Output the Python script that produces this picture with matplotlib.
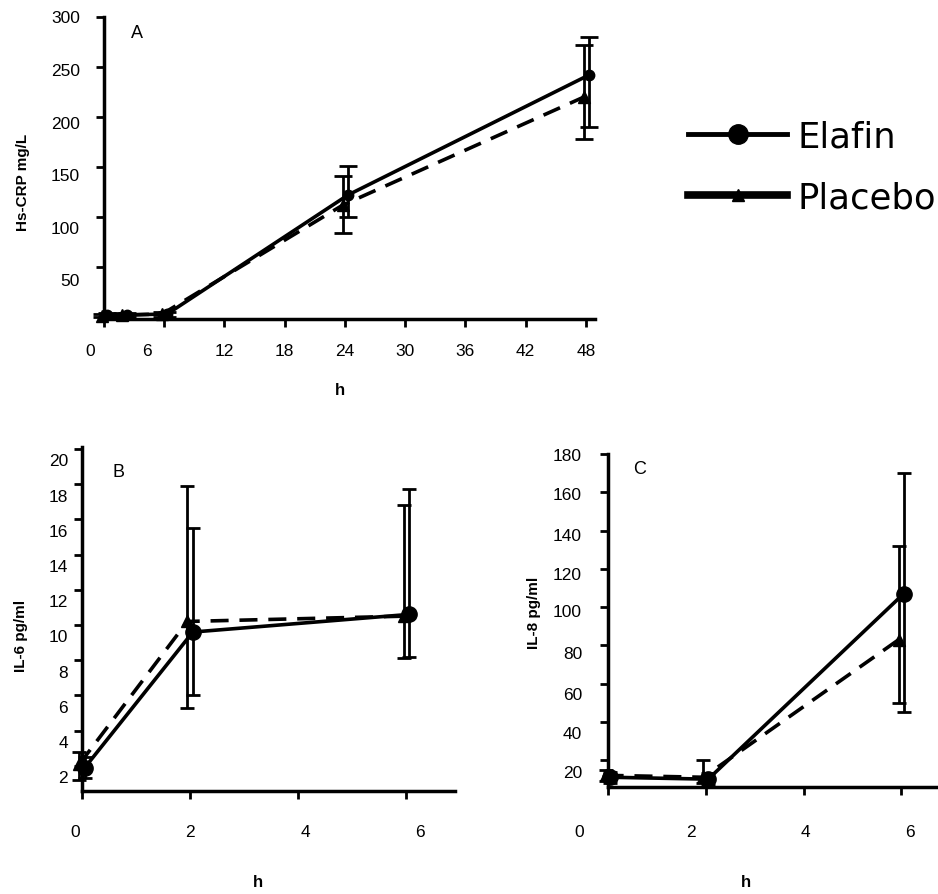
import matplotlib
matplotlib.use('Agg')
import matplotlib.pyplot as plt
from matplotlib.lines import Line2D

plt.rcParams['font.family'] = ['Liberation Sans', 'DejaVu Sans']

# A: Hs-CRP (mg/L)
crp_hours = [0, 2, 6, 24, 48]
crp_elafin = [2, 2, 3, 122, 242]
crp_elafin_low = [0, 0, 0, 100, 190]
crp_elafin_high = [4, 4, 5, 151, 280]
crp_placebo = [1, 2, 3, 112, 220]
crp_placebo_low = [0, 0, 0, 84, 178]
crp_placebo_high = [3, 4, 5, 141, 272]
crp_xticks = [0, 6, 12, 18, 24, 30, 36, 42, 48]
crp_yticks = [50, 100, 150, 200, 250, 300]

# B: IL-6 (pg/ml)
il6_hours = [0, 2, 6]
il6_elafin = [1.9, 9.6, 10.6]
il6_elafin_low = [1.3, 6.0, 8.2]
il6_elafin_high = [2.5, 15.5, 17.7]
il6_placebo = [2.1, 10.2, 10.5]
il6_placebo_low = [1.2, 5.3, 8.1]
il6_placebo_high = [2.8, 17.9, 16.8]
il6_xticks = [0, 2, 4, 6]
il6_yticks = [2, 4, 6, 8, 10, 12, 14, 16, 18, 20]

# C: IL-8 (pg/ml)
il8_hours = [0, 2, 6]
il8_elafin = [11, 10, 107]
il8_elafin_low = [8, 7, 45]
il8_elafin_high = [14, 13, 170]
il8_placebo = [12, 11, 83]
il8_placebo_low = [9, 8, 50]
il8_placebo_high = [15, 20, 132]
il8_xticks = [0, 2, 4, 6]
il8_yticks = [20, 40, 60, 80, 100, 120, 140, 160, 180]

PX = 0.72  # pixel -> point at dpi 100


def draw_series(ax, x, mean, low, high, dx, dashed, marker, ms, capsize):
    xs = [v + dx for v in x]
    yerr = [[m - l for m, l in zip(mean, low)], [h - m for m, h in zip(mean, high)]]
    ls = (0, (5, 3)) if dashed else '-'
    ax.errorbar(xs, mean, yerr=yerr, fmt='none', ecolor='black', elinewidth=2,
                capsize=capsize, capthick=2, clip_on=False, zorder=3)
    ax.plot(xs, mean, color='black', lw=2.6, ls=ls, marker=marker, ms=ms,
            clip_on=False, zorder=4)


def style_axis(ax):
    for s in ['top', 'right']:
        ax.spines[s].set_visible(False)
    for s in ['left', 'bottom']:
        ax.spines[s].set_linewidth(2.5)
    ax.tick_params(direction='out', length=5.5, width=2, labelbottom=False, labelleft=False)


def tick_text(ax, xticks, yticks, xshift, xdrop, yshift, yright):
    ax.set_xticks(xticks)
    ax.set_yticks(yticks)
    for v, s in zip(xticks, xshift):
        ax.annotate(str(v), xy=(v, 0), xycoords=ax.get_xaxis_transform(),
                    xytext=(s * PX, -xdrop * PX), textcoords='offset points',
                    ha='center', va='center', fontsize=12.5, annotation_clip=False)
    for v, s in zip(yticks, yshift):
        ax.annotate(str(v), xy=(0, v), xycoords=ax.get_yaxis_transform(),
                    xytext=(-yright * PX, -s * PX), textcoords='offset points',
                    ha='right', va='center', fontsize=12.5, annotation_clip=False)


fig = plt.figure(figsize=(9.38, 8.95), dpi=100)
W, H = 938, 895


def add_axes(left, top, right, bottom):
    return fig.add_axes([left / W, 1 - bottom / H, (right - left) / W, (bottom - top) / H])


# Panel A
axA = add_axes(104, 18, 595, 320)
draw_series(axA, crp_hours, crp_elafin, crp_elafin_low, crp_elafin_high, 0.3, False, 'o', 7.5, 6.5)
draw_series(axA, crp_hours, crp_placebo, crp_placebo_low, crp_placebo_high, -0.2, True, '^', 8, 6.5)
axA.set_xlim(0, 48.9)
axA.set_ylim(-2, 300)
style_axis(axA)
tick_text(axA, crp_xticks, crp_yticks, [-14, -17, 0, 0, 0, 0, 0, 0, 0], 32,
          [14, 11, 8, 6, 3, 0], 24)
axA.text(0.055, 0.95, 'A', transform=axA.transAxes, fontsize=13, va='center')
axA.set_ylabel('Hs-CRP mg/L', fontsize=11, fontweight='bold')
axA.yaxis.set_label_coords(-0.15, 0.457)
axA.set_xlabel('h', fontsize=12, fontweight='bold')
axA.xaxis.set_label_coords(0.481, -0.209)

# Panel B
axB = add_axes(82, 448, 455, 792)
draw_series(axB, il6_hours, il6_elafin, il6_elafin_low, il6_elafin_high, 0.05, False, 'o', 11, 5)
draw_series(axB, il6_hours, il6_placebo, il6_placebo_low, il6_placebo_high, -0.05, True, '^', 9, 5)
axB.set_xlim(0, 6.9)
axB.set_ylim(0.58, 20.1)
style_axis(axB)
tick_text(axB, il6_xticks, il6_yticks, [-7, 0, 7, 14], 41, [12] * 10, 14)
axB.text(0.083, 0.93, 'B', transform=axB.transAxes, fontsize=13, va='center')
axB.set_ylabel('IL-6 pg/ml', fontsize=11, fontweight='bold')
axB.yaxis.set_label_coords(-0.145, 0.453)
axB.set_xlabel('h', fontsize=12, fontweight='bold')
axB.xaxis.set_label_coords(0.472, -0.241)

# Panel C
axC = add_axes(608, 455, 937, 788)
draw_series(axC, il8_hours, il8_elafin, il8_elafin_low, il8_elafin_high, 0.05, False, 'o', 11, 5)
draw_series(axC, il8_hours, il8_placebo, il8_placebo_low, il8_placebo_high, -0.05, True, '^', 9, 5)
axC.set_xlim(0, 6.73)
axC.set_ylim(5.9, 180)
style_axis(axC)
tick_text(axC, il8_xticks, il8_yticks, [-29, -15, 2, 9], 45,
          [12, 12, 11, 8, 4, 6, 5, 2, 2], 26)
axC.text(0.076, 0.955, 'C', transform=axC.transAxes, fontsize=13, va='center')
axC.set_ylabel('IL-8 pg/ml', fontsize=11, fontweight='bold')
axC.yaxis.set_label_coords(-0.205, 0.525)
axC.set_xlabel('h', fontsize=12, fontweight='bold')
axC.xaxis.set_label_coords(0.418, -0.261)

# Legend
handles = [Line2D([], [], color='black', lw=3.5, marker='o', ms=14),
           Line2D([], [], color='black', lw=5.5, marker='^', ms=9)]
fig.legend(handles, ['Elafin', 'Placebo'], loc='upper left',
           bbox_to_anchor=(688 / W, 1 - 120 / H), frameon=False,
           prop={'family': 'DejaVu Sans', 'size': 25.5}, handlelength=2.8,
           handletextpad=0.28, labelspacing=0.78, borderpad=0, borderaxespad=0)

fig.savefig('out.png', dpi=100)
